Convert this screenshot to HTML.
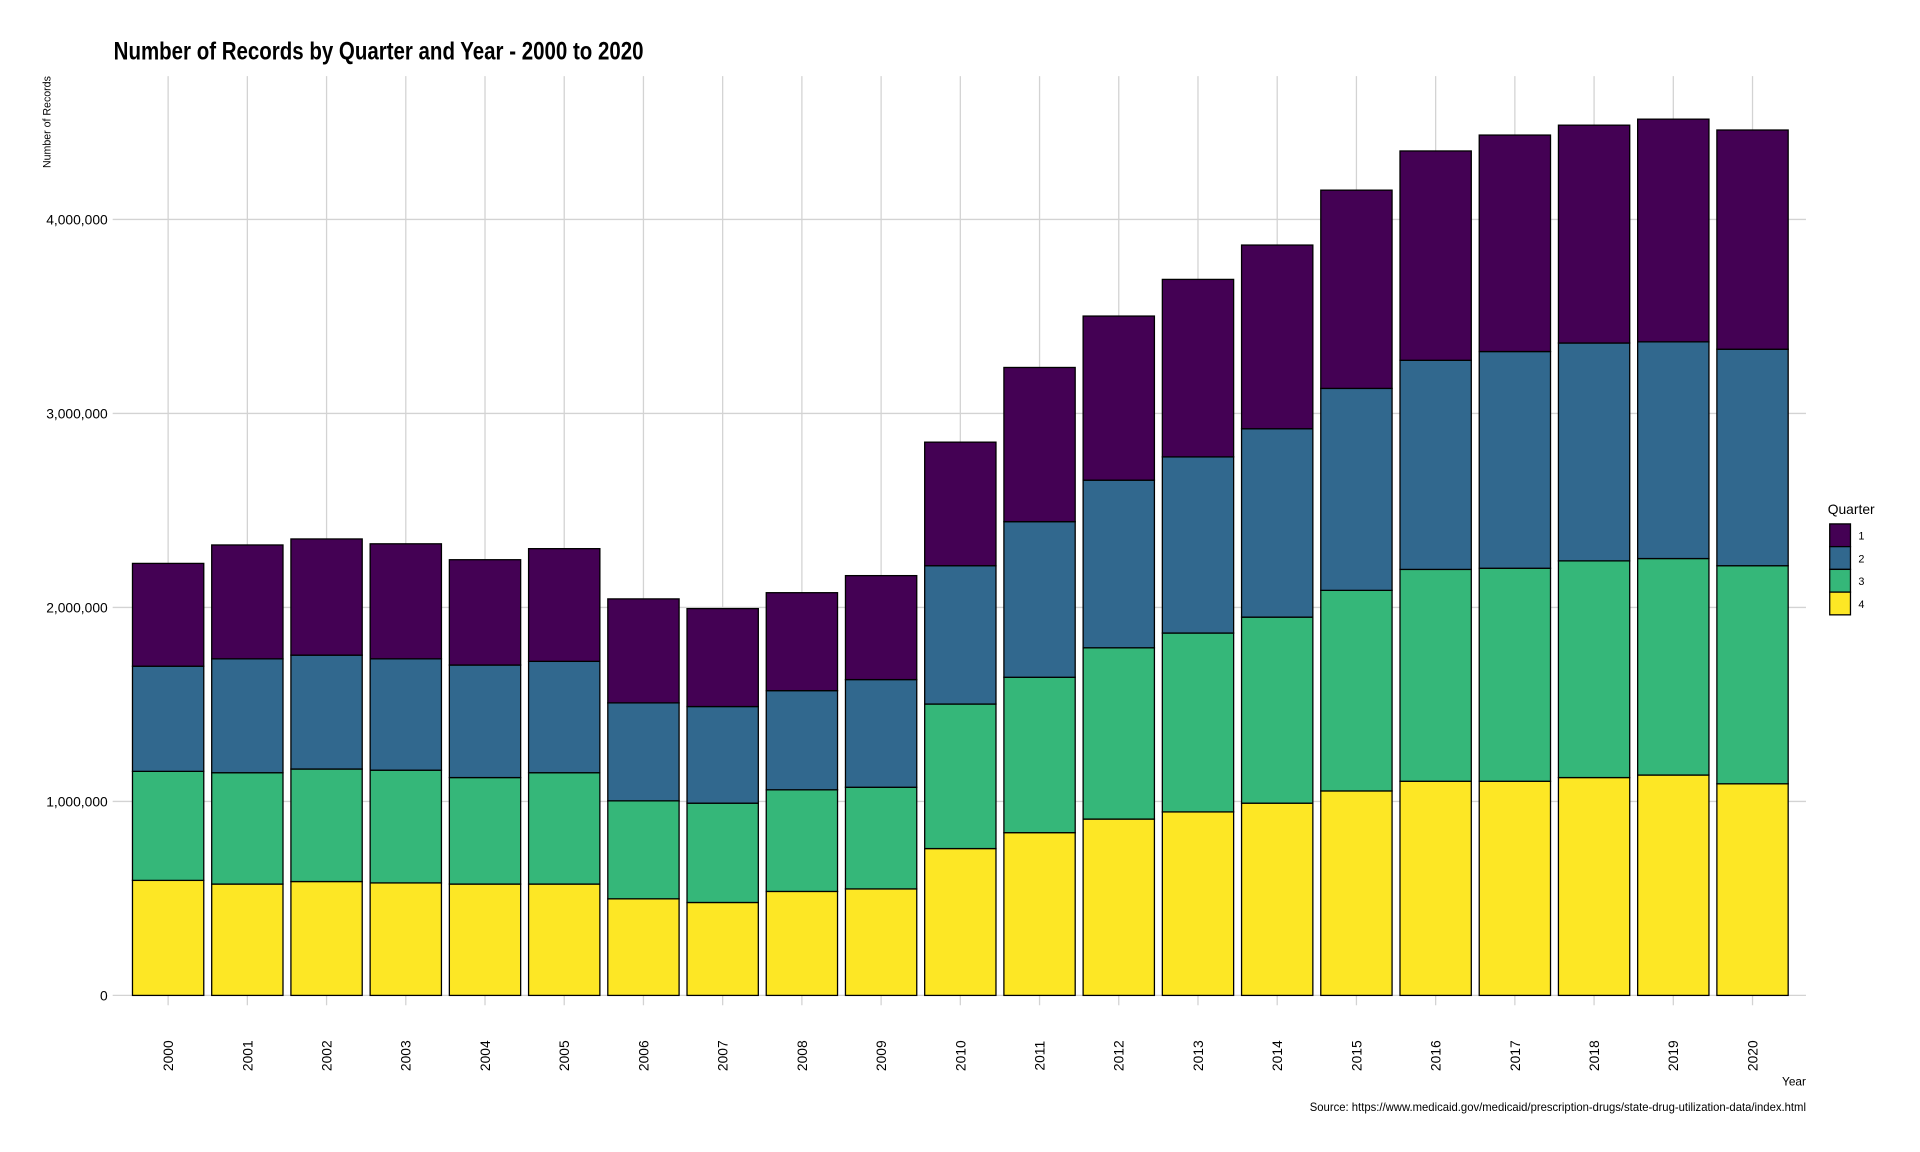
<!DOCTYPE html>
<html><head><meta charset="utf-8"><style>
html,body{margin:0;padding:0;background:#fff;}
svg{display:block;font-family:"Liberation Sans Narrow","Liberation Sans",sans-serif;}
</style></head><body>
<svg id="chart" width="1920" height="1152" viewBox="0 0 1920 1152">
<g transform="scale(0.9885)">
<text x="115" y="60" font-size="25" font-weight="bold" fill="#000" textLength="536" lengthAdjust="spacingAndGlyphs">Number of Records by Quarter and Year - 2000 to 2020</text>
<text transform="translate(51,170) rotate(-90)" font-size="11" fill="#000" textLength="93" lengthAdjust="spacingAndGlyphs">Number of Records</text>
<g id="grid"></g>
<g id="bars"></g>
<g id="axes"></g>
<text x="1827" y="1098" text-anchor="end" font-size="12" fill="#000">Year</text>
<text x="1827" y="1124" text-anchor="end" font-size="12" fill="#000" textLength="502" lengthAdjust="spacingAndGlyphs">Source: https://www.medicaid.gov/medicaid/prescription-drugs/state-drug-utilization-data/index.html</text>
<g id="legend">
<text x="1849" y="520" font-size="14" fill="#000">Quarter</text>
</g>
</g>
</svg>
<script>
const years = ["2000","2001","2002","2003","2004","2005","2006","2007","2008","2009","2010","2011","2012","2013","2014","2015","2016","2017","2018","2019","2020"];
const q4 = [593,574,587,580,574,574,498,479,536,549,757,839,909,946,991,1054,1104,1104,1123,1136,1091];
const q3 = [562,574,580,581,549,574,505,512,524,524,745,801,883,922,959,1034,1092,1098,1117,1116,1124];
const q2 = [542,587,587,574,580,574,505,498,511,555,713,802,864,908,971,1041,1078,1117,1123,1117,1116];
const q1 = [530,587,599,593,543,581,536,505,505,536,637,795,846,915,947,1022,1079,1116,1123,1148,1130];
const yTicks = [0,1000000,2000000,3000000,4000000];
const yTickLabels = ["0","1,000,000","2,000,000","3,000,000","4,000,000"];
const quarterNames = ["1","2","3","4"];

const NS="http://www.w3.org/2000/svg";
const colors={"1":"#440154","2":"#31688e","3":"#35b779","4":"#fde725"};
const plotLeft=122,plotRight=1827,plotTop=77,zeroY=1007,pxPerUnit=196.25/1000000;
const step=(1821-plotLeft)/(years.length+0.2);
function xScale(i){return plotLeft+step*(0.6+i);}
function yScale(v){return zeroY-v*pxPerUnit;}
function mk(tag,attrs,parent){const e=document.createElementNS(NS,tag);for(const k in attrs)e.setAttribute(k,attrs[k]);parent.appendChild(e);return e;}
const gridG=document.getElementById('grid'),barsG=document.getElementById('bars'),axesG=document.getElementById('axes'),legendG=document.getElementById('legend');
yTicks.forEach((t,i)=>{
  const l=mk('line',{x1:plotLeft-8,x2:plotRight,y1:yScale(t),y2:yScale(t),stroke:'#d3d3d3','stroke-width':1.3},gridG);
  
  
  const tx=mk('text',{x:plotLeft-13,y:yScale(t)+5,'text-anchor':'end','font-size':14,fill:'#000'},axesG);
  tx.textContent=yTickLabels[i];
  
  
});
const bw=step*0.9;
years.forEach((y,i)=>{
  const cx=xScale(i);
  const l=mk('line',{x1:cx,x2:cx,y1:plotTop,y2:zeroY+10,stroke:'#d3d3d3','stroke-width':1.3},gridG);
  
  
  const vals=[["4",q4[i]],["3",q3[i]],["2",q2[i]],["1",q1[i]]];
  let cum=0;
  vals.forEach(([q,v])=>{
    const y0=yScale(cum*1000),y1=yScale((cum+v)*1000);
    const r=mk('rect',{x:cx-bw/2,y:y1,width:bw,height:y0-y1,fill:colors[q],stroke:'#000','stroke-width':1.3},barsG);
    
    
    cum+=v;
  });
  const tx=mk('text',{transform:'translate('+(cx+5)+',1068) rotate(-90)','text-anchor':'middle','font-size':14,fill:'#000'},axesG);
  tx.textContent=y;
  
  
});
quarterNames.forEach((q,i)=>{
  const r=mk('rect',{x:1851,y:530+i*23,width:21,height:23,fill:colors[q],stroke:'#000','stroke-width':1.3},legendG);
  
  
  const t=mk('text',{x:1880,y:546+i*23,'font-size':11,fill:'#000'},legendG);
  t.textContent=q;
  
  
});
</script>
</body></html>
